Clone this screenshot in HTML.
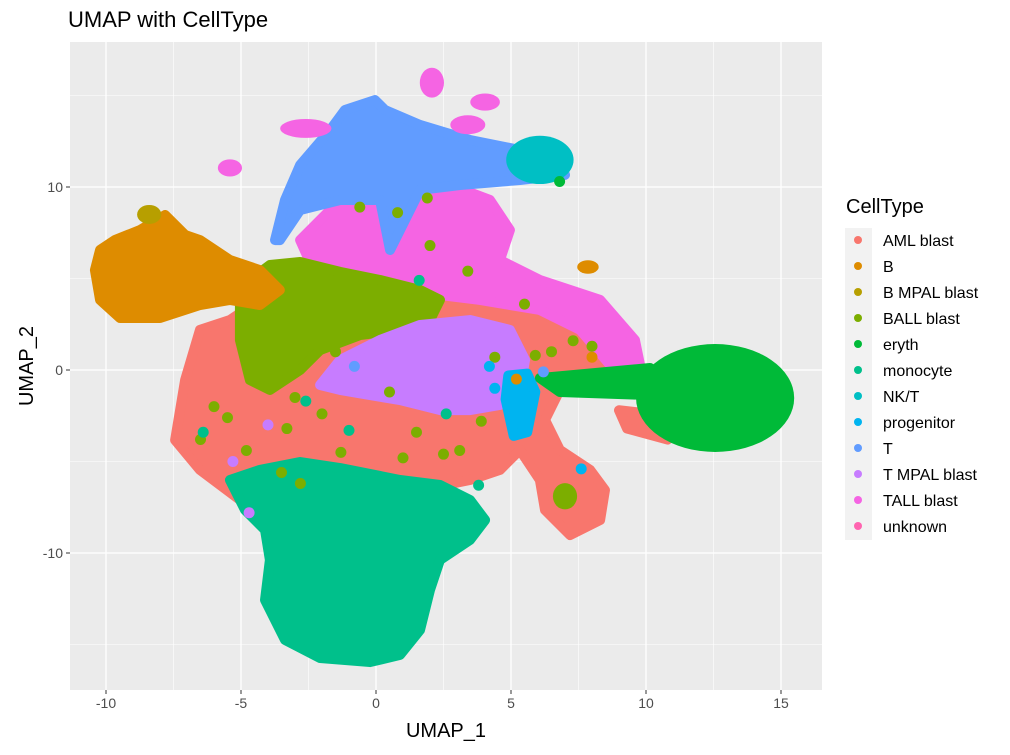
<!DOCTYPE html>
<html><head><meta charset="utf-8"><style>
body{margin:0;background:#fff;}
svg text{font-family:"Liberation Sans",sans-serif;}
</style></head><body>
<svg id="chart" width="1010" height="750" xmlns="http://www.w3.org/2000/svg">
<text x="68" y="27" font-size="22" fill="#000">UMAP with CellType</text>
<g id="panel"></g>
<text x="446" y="737" font-size="20" text-anchor="middle">UMAP_1</text>
<text x="0" y="0" font-size="20" text-anchor="middle" transform="translate(33,366) rotate(-90)">UMAP_2</text>
<g id="legend"></g>
</svg>
<script>
const xTicks=[-10,-5,0,5,10,15];
const yTicks=[-10,0,10];
const xMinor=[-7.5,-2.5,2.5,7.5,12.5];
const yMinor=[-15,-5,5,15];
const cellTypes=["AML blast","B","B MPAL blast","BALL blast","eryth","monocyte","NK/T","progenitor","T","T MPAL blast","TALL blast","unknown"];
const typeColors=["#F8766D","#DE8C00","#B79F00","#7CAE00","#00BA38","#00C08B","#00BFC4","#00B4F0","#619CFF","#C77CFF","#F564E3","#FF64B0"];
// cluster outlines (data coords)
const amlBlast=[[-7.44,-3.83],[-7.07,-0.55],[-6.52,2.19],[-5.41,2.73],[-4.30,3.83],[-2.81,4.37],[0.89,4.37],[3.85,3.83],[6.81,4.37],[8.67,2.19],[9.41,0],[8.30,-0.55],[6.81,-1.09],[6.26,-2.73],[6.81,-4.37],[7.93,-5.46],[8.48,-6.56],[8.30,-8.20],[7.19,-9.02],[6.26,-7.65],[6.07,-6.01],[5.33,-4.37],[4.59,-5.46],[3.48,-6.01],[1.63,-6.56],[-0.59,-5.46],[-2.81,-5.19],[-4.30,-6.56],[-5.04,-7.10],[-6.52,-5.46]];
const amlTail=[[9.0,-2.2],[10.2,-2.4],[11.2,-3.1],[10.8,-3.8],[9.3,-3.2]];
const tallBlast=[[-2.81,7.10],[-1.70,8.74],[-0.59,10.38],[0.89,10.93],[2.74,10.11],[4.22,9.29],[4.96,7.65],[4.59,6.01],[6.07,4.92],[8.30,3.83],[9.59,1.64],[9.78,0.27],[8.67,0.27],[7.56,2.19],[6.07,3.28],[3.85,3.83],[0.89,4.37],[-2.07,4.64]];
const tCells=[[-3.74,7.10],[-3.37,9.29],[-2.81,11.20],[-1.70,13.11],[-1.15,14.21],[-0.04,14.75],[0.33,14.21],[1.63,13.39],[3.48,12.57],[5.33,12.02],[6.81,11.48],[7.00,10.66],[5.33,10.38],[3.11,10.11],[1.63,9.84],[0.89,7.65],[0.52,6.56],[0.15,9.29],[-1.33,9.29],[-2.81,8.74],[-3.56,7.10]];
const ballBlast=[[-5.04,3.83],[-4.67,4.92],[-3.93,5.74],[-2.81,5.90],[-1.33,5.36],[0.15,4.92],[1.63,4.37],[2.37,3.83],[2.00,2.73],[0.89,2.19],[-0.59,1.91],[-2.07,1.09],[-2.81,0],[-3.93,-1.09],[-4.67,-0.55],[-5.04,1.64]];
const bCells=[[-10.22,6.56],[-9.67,7.10],[-8.74,7.65],[-7.81,8.47],[-7.07,7.38],[-6.52,7.10],[-5.41,6.01],[-4.30,5.46],[-3.56,4.37],[-4.30,3.55],[-5.41,3.83],[-6.52,3.55],[-8.00,2.84],[-9.48,2.84],[-10.22,3.83],[-10.41,5.46]];
const tmpalBlast=[[0.15,1.64],[1.63,2.46],[3.48,2.73],[4.96,2.19],[5.52,0.55],[5.33,-1.09],[4.59,-1.91],[3.48,-2.19],[2.37,-2.19],[0.89,-1.64],[-0.22,-1.37],[-1.33,-1.09],[-2.07,-0.82],[-1.33,0.55]];
const monocyte=[[-5.41,-6.01],[-4.30,-5.46],[-2.81,-5.03],[-1.33,-5.36],[0.89,-6.01],[2.37,-6.28],[3.48,-7.10],[4.04,-8.20],[3.48,-9.29],[2.37,-10.38],[2.00,-12.02],[1.63,-14.21],[0.89,-15.57],[-0.22,-15.96],[-2.07,-15.74],[-3.37,-14.75],[-4.11,-12.57],[-3.93,-10.38],[-4.11,-8.74],[-4.85,-7.65]];
const erythStem=[[6.07,-0.44],[10.15,0.11],[10.15,-1.37],[6.81,-1.20]];
const progenitor=[[4.9,-0.3],[5.6,-0.2],[5.9,-1.2],[5.6,-3.4],[5.1,-3.6],[4.8,-1.6]];
// ellipses: [cx, cy, rx, ry, typeIndex]
const blobs=[[12.56,-1.53,2.78,2.73,4],[6.07,11.48,1.1,1.1,6],[-5.41,11.04,0.3,0.25,10],[-2.6,13.2,0.8,0.3,10],[2.07,15.7,0.3,0.6,10],[4.04,14.64,0.4,0.25,10],[3.4,13.4,0.5,0.3,10],[7.85,5.63,0.25,0.15,1],[-8.4,8.5,0.3,0.3,2],[4.3,7.4,0.15,0.15,10],[7.0,-6.9,0.3,0.5,3]];
// scattered points: [x, y, typeIndex]
const scatter=[[-6.5,-3.8,3],[-5.5,-2.6,3],[-4.8,-4.4,3],[-3.3,-3.2,3],[-2.0,-2.4,3],[-1.3,-4.5,3],[1.5,-3.4,3],[2.5,-4.6,3],[3.1,-4.4,3],[3.9,-2.8,3],[4.4,0.7,3],[5.9,0.8,3],[7.3,1.6,3],[8.0,1.3,3],[3.4,5.4,3],[2.0,6.8,3],[0.8,8.6,3],[-0.6,8.9,3],[1.9,9.4,3],[5.5,3.6,3],[-3.5,-5.6,3],[-2.8,-6.2,3],[0.5,-1.2,3],[-1.5,1.0,3],[-6.0,-2.0,3],[-3.0,-1.5,3],[1.0,-4.8,3],[6.5,1.0,3],[4.4,-1.0,7],[5.0,-2.0,7],[5.4,-3.0,7],[4.2,0.2,7],[-6.4,-3.4,5],[-2.6,-1.7,5],[-1.0,-3.3,5],[2.6,-2.4,5],[1.6,4.9,5],[3.8,-6.3,5],[6.8,10.3,4],[7.6,-5.4,7],[-5.3,-5.0,9],[-4.7,-7.8,9],[-4.0,-3.0,9],[-0.8,0.2,8],[6.2,-0.1,8],[3.0,-0.8,9],[8.0,0.7,1],[5.2,-0.5,1]];

const L=70,R=822,T=42,B=690;
function sx(v){return 376+v*27;}
function sy(v){return 370-v*18.3;}
const NS='http://www.w3.org/2000/svg';
const panel=document.getElementById('panel');
function mk(tag,attrs,parent){const e=document.createElementNS(NS,tag);for(const k in attrs)e.setAttribute(k,attrs[k]);(parent||panel).appendChild(e);return e;}
const bg=mk('rect',{x:L,y:T,width:R-L,height:B-T,fill:'#EBEBEB'});


xMinor.forEach(v=>{const l=mk('line',{x1:sx(v),x2:sx(v),y1:T,y2:B,stroke:'#fff','stroke-width':0.6});});
yMinor.forEach(v=>{const l=mk('line',{x1:L,x2:R,y1:sy(v),y2:sy(v),stroke:'#fff','stroke-width':0.6});});
xTicks.forEach(v=>{const l=mk('line',{x1:sx(v),x2:sx(v),y1:T,y2:B,stroke:'#fff','stroke-width':1.3});
 const t=mk('line',{x1:sx(v),x2:sx(v),y1:B,y2:B+4,stroke:'#333','stroke-width':1});
 const tx=mk('text',{x:sx(v),y:B+18,'font-size':14,fill:'#4D4D4D','text-anchor':'middle'});tx.textContent=v;});
yTicks.forEach(v=>{const l=mk('line',{x1:L,x2:R,y1:sy(v),y2:sy(v),stroke:'#fff','stroke-width':1.3});
 const t=mk('line',{x1:L-4,x2:L,y1:sy(v),y2:sy(v),stroke:'#333','stroke-width':1});
 const tx=mk('text',{x:L-7,y:sy(v)+5,'font-size':14,fill:'#4D4D4D','text-anchor':'end'});tx.textContent=v;});
function poly(pts,ti,name){const p=mk('polygon',{points:pts.map(q=>sx(q[0])+','+sy(q[1])).join(' '),fill:typeColors[ti],stroke:typeColors[ti],'stroke-width':10,'stroke-linejoin':'round'});}
poly(amlBlast,0,'cluster-aml-blast');
poly(amlTail,0,'cluster-aml-tail');
poly(tallBlast,10,'cluster-tall-blast');
poly(tCells,8,'cluster-t');
poly(ballBlast,3,'cluster-ball-blast');
poly(bCells,1,'cluster-b');
poly(tmpalBlast,9,'cluster-tmpal-blast');
poly(progenitor,7,'cluster-progenitor');
poly(monocyte,5,'cluster-monocyte');
poly(erythStem,4,'cluster-eryth-stem');
blobs.forEach(b=>{const e=mk('ellipse',{cx:sx(b[0]),cy:sy(b[1]),rx:b[2]*27+4,ry:b[3]*18.3+4,fill:typeColors[b[4]]});});
scatter.forEach(s=>{const c=mk('circle',{cx:sx(s[0]),cy:sy(s[1]),r:5.5,fill:typeColors[s[2]]});});
const lg=document.getElementById('legend');
const lt=mk('text',{x:846,y:213,'font-size':20},lg);lt.textContent='CellType';
const kb=mk('rect',{x:845,y:228,width:27,height:312,fill:'#F2F2F2'},lg);
cellTypes.forEach((n,i)=>{const y=240+i*26;
 const c=mk('circle',{cx:858,cy:y,r:4,fill:typeColors[i]},lg);
 const t=mk('text',{x:883,y:y+6,'font-size':16},lg);t.textContent=n;});
</script>
</body></html>
